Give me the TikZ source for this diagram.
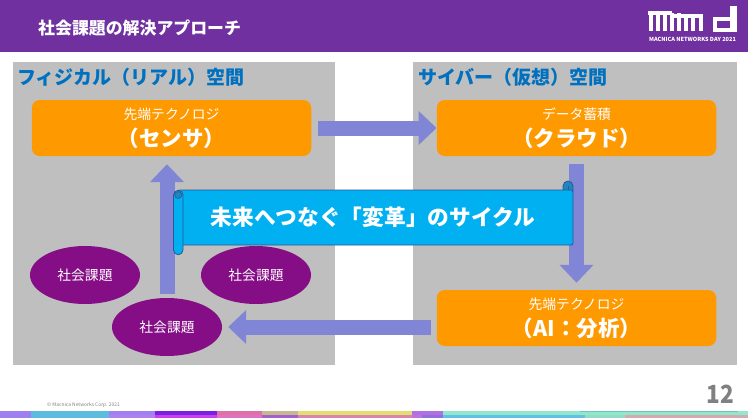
\documentclass[tikz,border=0pt]{standalone}
\usepackage{fontspec}
\setmainfont{Noto Sans CJK JP}
\usetikzlibrary{arrows.meta,shapes.geometric}
\definecolor{headpurple}{HTML}{7030A0}
\definecolor{panelgray}{HTML}{BFBFBF}
\definecolor{boxorange}{HTML}{FF9900}
\definecolor{flowblue}{HTML}{8085D5}
\definecolor{issuepurple}{HTML}{850D85}
\definecolor{bannerblue}{HTML}{00B0F0}
\definecolor{bannerline}{HTML}{2F5597}
\definecolor{bannercurl}{HTML}{1F86BE}
\definecolor{titleblue}{HTML}{0070C0}
\tikzset{
  panel/.style={fill=panelgray,minimum width=#1,minimum height=303pt,inner sep=0pt},
  paneltitle/.style={font=\fontsize{19}{20}\selectfont\bfseries,text=titleblue,inner sep=0pt},
  techbox/.style={fill=boxorange,rounded corners=8pt,minimum width=279.5pt,minimum height=56pt,
    text=white,inner sep=0pt,align=center},
  issue/.style={ellipse,fill=issuepurple,text=white,inner sep=0pt,minimum width=110pt,minimum height=58pt,
    font=\fontsize{13.8}{16}\selectfont},
  flow/.style={draw=flowblue,line width=15pt,
    -{Triangle[width=33pt,length=18pt,fill=flowblue]}},
  bannerpart/.style={draw=bannerline,fill=bannerblue,line width=.8pt},
}
\newcommand{\smalltxt}[1]{{\fontsize{13.8}{16}\selectfont #1}}
\newcommand{\bigtxt}[1]{{\fontsize{21.5}{26}\selectfont\bfseries #1}}
\begin{document}
\begin{tikzpicture}[x=1pt,y=-1pt]
  \useasboundingbox (0,0) rectangle (748,418);
  % header
  \fill[headpurple] (0,0) rectangle (748,52);
  \node[anchor=west,text=white,inner sep=0pt,font=\fontsize{16.9}{18}\selectfont\bfseries] (title) at (38,28) {社会課題の解決アプローチ};
  % logo
  \foreach \x in {649,656,663,670,677}
    \fill[white] (\x,13) rectangle (\x+4,31);
  \foreach \x in {684,691,699}
    \fill[white] (\x,15) rectangle (\x+4,31);
  \fill[white] (648,11) rectangle (672,15);
  \fill[white] (670,14) rectangle (703,18);
  \fill[white] (713,17) rectangle (737,32);
  \fill[headpurple] (717,21) rectangle (730,28);
  \fill[white] (730,6) rectangle (737,17);
  \node[text=white,inner sep=0pt,font=\fontsize{5.6}{6}\selectfont\bfseries] (logotext) at (692.5,39.5) {MACNICA NETWORKS DAY 2021};
  % panels
  \node[panel=322pt,anchor=north west] (real) at (13,62) {};
  \node[panel=324pt,anchor=north west] (cyber) at (413,62) {};
  \node[paneltitle,anchor=west] (realtitle) at (17,77) {フィジカル（リアル）空間};
  \node[paneltitle,anchor=west] (cybertitle) at (418,77) {サイバー（仮想）空間};
  % boxes
  \node[techbox] (sensor) at (171.5,128) {\smalltxt{先端テクノロジ}\\[6pt]\bigtxt{（センサ）}};
  \node[techbox] (cloud) at (576.5,128) {\smalltxt{データ蓄積}\\[6pt]\bigtxt{（クラウド）}};
  \node[techbox] (ai) at (576.5,318) {\smalltxt{先端テクノロジ}\\[6pt]\bigtxt{（AI：分析）}};
  % issues
  \node[issue] (issuea) at (85,275) {社会課題};
  \node[issue] (issueb) at (256,275) {社会課題};
  \node[issue] (issuec) at (167,327) {社会課題};
  % cycle arrows
  \draw[flow,shorten <=7pt] (sensor) -- (cloud);
  \draw[flow,shorten <=8pt,shorten >=7pt] (cloud) -- (ai);
  \draw[flow,shorten <=6pt,shorten >=6pt] (ai.west |- issuec) -- (issuec);
  \draw[flow,shorten <=4pt,shorten >=8pt] (issuec) -- (sensor.south -| issuec);
  % banner
  \draw[bannerpart,fill=bannercurl] (563,192) -- (563,186) arc (180:0:5pt) -- (573,192) -- cycle;
  \draw[bannerpart,rounded corners=2pt] (178,190) -- (573,190) -- (573,245) -- (178,245) -- cycle;
  \draw[bannerpart] (173.5,195) arc (180:90:4.75pt) arc (90:0:4.75pt) -- (183,250) arc (0:-180:4.75pt) -- cycle;
  \draw[bannerpart,fill=bannercurl,line width=.6pt] (178.2,195) circle (3.5pt);
  \draw[bannerline,line width=.6pt] (568,186) -- (568,190);
  \node[text=white,inner sep=0pt,font=\fontsize{21.7}{25}\selectfont\bfseries] (cycle) at (373,217) {未来へつなぐ「変革」のサイクル};
  % footer
  \node[anchor=west,text=gray,inner sep=0pt,font=\fontsize{4.9}{5}\selectfont] (copyright) at (47,405) {© Macnica Networks Corp. 2021};
  \node[anchor=east,text=gray,inner sep=0pt,xscale=.9,transform shape,font=\fontsize{25}{28}\selectfont\bfseries] (pageno) at (734,394) {12};
  % colour bands, upper and lower
  \foreach \a/\b/\c in {0/31/A080F0,31/109/5BBCE0,109/155/A080F0,155/217/7A20E0,217/262/E070A8,262/298/C8B890,298/412/E0E070,412/443/B070E0,443/748/90E8C8}{
    \definecolor{stripe}{HTML}{\c}
    \fill[stripe] (\a,410.5) rectangle (\b,414.5);
  }
  \foreach \a/\b/\c in {0/31/A080F0,31/109/5BBCE0,109/155/B080F0,155/217/C840F0,217/262/E070C0,262/298/A060D0,298/412/E080B0,412/422/C070E0,422/443/9070E0,443/585/60C0E8,585/625/90DCC8,625/748/D8A8B0}{
    \definecolor{stripe}{HTML}{\c}
    \fill[stripe] (\a,414.5) rectangle (\b,418);
  }
  \definecolor{stripe}{HTML}{70C0C8}
  \fill[stripe] (580,410.5) rectangle (738,412);
\end{tikzpicture}
\end{document}
